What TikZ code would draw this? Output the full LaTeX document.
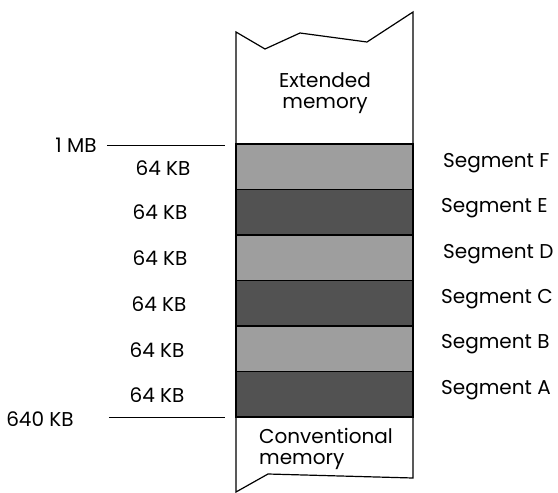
\documentclass[tikz,border=0pt]{standalone}
\usepackage{fontspec}
\setmainfont{Poppins}
\usepackage{tikz}

\definecolor{seglight}{gray}{0.62}
\definecolor{segdark}{gray}{0.32}
\tikzset{
  lbl/.style={font=\fontsize{20}{21}\selectfont, inner sep=0pt},
  segbox/.style={draw, line width=1.2pt},
  edge/.style={line width=1.2pt, line join=miter}
}

\begin{document}
\begin{tikzpicture}[x=1pt,y=-1pt]
           \useasboundingbox (0,0) rectangle (558,493);
           % extended memory, torn top
           \draw[edge] (236,144) -- (236,32) -- (265,49) -- (300,33) -- (367,42) -- (413,12) -- (413,144);
           \node[lbl, align=center] (ext) at (325,93) {Extended\\memory};
           % the six 64 KB segments
           \draw[segbox, fill=seglight] (236,144) rectangle (413,189.5);
           \draw[segbox, fill=segdark] (236,189.5) rectangle (413,235);
           \draw[segbox, fill=seglight] (236,235) rectangle (413,280.5);
           \draw[segbox, fill=segdark] (236,280.5) rectangle (413,326);
           \draw[segbox, fill=seglight] (236,326) rectangle (413,371.5);
           \draw[segbox, fill=segdark] (236,371.5) rectangle (413,417);
           % conventional memory, torn bottom
           \draw[edge] (236,417) -- (236,492) -- (268,474) -- (413,478) -- (413,417);
           \node[lbl, align=left, anchor=west] (conv) at (259,449) {Conventional\\memory};
           % boundaries
           \node[lbl] (mb) at (76,145) {1 MB};
           \coordinate (mbend) at (225,145);
           \draw[line width=1pt] ([xshift=10pt]mb.east) -- (mbend);
           \node[lbl] (kb) at (40,419) {640 KB};
           \coordinate (kbend) at (225,417);
           \draw[line width=1pt] ([xshift=35pt]kb.east |- kbend) -- (kbend);
           % sizes
           \node[lbl] (szF) at (163,168) {64 KB};
           \node[lbl] (szE) at (160,212) {64 KB};
           \node[lbl] (szD) at (160,258) {64 KB};
           \node[lbl] (szC) at (159,304) {64 KB};
           \node[lbl] (szB) at (157,350) {64 KB};
           \node[lbl] (szA) at (157,395) {64 KB};
           % names
           \node[lbl, anchor=west] (segF) at (443,163) {Segment F};
           \node[lbl, anchor=west] (segE) at (441,208) {Segment E};
           \node[lbl, anchor=west] (segD) at (443,254) {Segment D};
           \node[lbl, anchor=west] (segC) at (441,299) {Segment C};
           \node[lbl, anchor=west] (segB) at (441,344) {Segment B};
           \node[lbl, anchor=west] (segA) at (441,390) {Segment A};
         \end{tikzpicture}
\end{document}
